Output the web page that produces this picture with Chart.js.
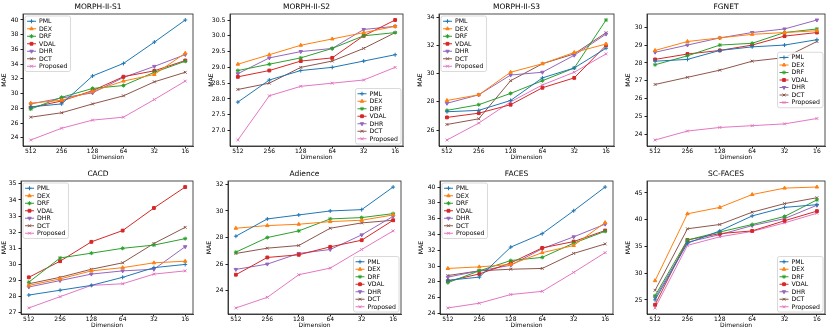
<!DOCTYPE html>
<html>
<head>
<meta charset="utf-8">
<script src="https://cdn.jsdelivr.net/npm/chart.js@4.4.0/dist/chart.umd.min.js"></script>
<style>
  body { margin: 0; background: #fff; width: 830px; height: 332px; position: relative; overflow: hidden; }
  .cell { position: absolute; }
</style>
</head>
<body>
<script>
const dims = ['512', '256', '128', '64', '32', '16'];
const methods = ['PML', 'DEX', 'DRF', 'VDAL', 'DHR', 'DCT', 'Proposed'];

// rows follow the order of methods
const morphS1 = [
  [28.2, 28.6, 32.4, 34.1, 37.0, 40.0],
  [28.7, 29.1, 30.3, 31.7, 32.6, 35.5],
  [27.9, 29.5, 30.7, 31.1, 32.9, 34.4],
  [28.1, 29.0, 30.4, 32.3, 33.1, 34.5],
  [28.6, 29.4, 30.1, 32.2, 33.7, 35.3],
  [26.8, 27.4, 28.6, 29.7, 31.6, 32.9],
  [23.7, 25.3, 26.4, 26.8, 29.2, 31.7]
];
const morphS2 = [
  [27.9, 28.6, 28.9, 29.0, 29.2, 29.4],
  [29.1, 29.4, 29.7, 29.9, 30.1, 30.3],
  [28.9, 29.1, 29.3, 29.6, 30.0, 30.1],
  [28.7, 28.9, 29.2, 29.3, 30.0, 30.5],
  [28.8, 29.3, 29.5, 29.6, 30.2, 30.3],
  [28.3, 28.5, 29.0, 29.2, 29.6, 30.1],
  [26.7, 28.1, 28.4, 28.5, 28.6, 29.0]
];
const morphS3 = [
  [27.3, 27.4, 28.1, 29.7, 30.4, 31.8],
  [28.1, 28.5, 30.1, 30.7, 31.5, 32.1],
  [27.4, 27.8, 28.6, 29.5, 30.4, 33.8],
  [26.9, 27.2, 27.8, 29.0, 29.7, 32.0],
  [27.9, 28.5, 29.9, 30.1, 31.3, 32.8],
  [26.4, 26.8, 29.5, 30.7, 31.4, 32.9],
  [25.3, 26.5, 28.0, 29.2, 30.1, 31.4]
];
const fgnet = [
  [28.1, 28.2, 28.7, 28.9, 29.0, 29.3],
  [28.7, 29.2, 29.4, 29.6, 29.7, 29.8],
  [27.9, 28.4, 29.0, 29.1, 29.7, 29.9],
  [28.2, 28.5, 28.7, 29.0, 29.5, 29.7],
  [28.6, 29.0, 29.4, 29.7, 29.9, 30.4],
  [26.8, 27.2, 27.6, 28.1, 28.3, 29.2],
  [23.7, 24.2, 24.4, 24.5, 24.6, 24.9]
];
const cacd = [
  [28.1, 28.4, 28.7, 29.2, 29.8, 30.0],
  [28.7, 29.1, 29.6, 29.8, 30.1, 30.2],
  [28.9, 30.4, 30.7, 31.0, 31.2, 31.6],
  [29.2, 30.2, 31.4, 32.1, 33.5, 34.8],
  [28.6, 29.0, 29.4, 29.6, 29.7, 31.1],
  [28.8, 29.2, 29.7, 30.1, 31.3, 32.3],
  [27.3, 28.0, 28.7, 28.8, 29.4, 29.6]
];
const adience = [
  [28.1, 29.4, 29.7, 30.0, 30.1, 31.8],
  [28.7, 28.9, 29.0, 29.2, 29.3, 29.7],
  [26.9, 28.0, 28.5, 29.4, 29.5, 29.8],
  [25.2, 26.5, 26.7, 27.3, 27.8, 29.3],
  [25.6, 26.0, 26.8, 27.1, 28.2, 29.6],
  [26.8, 27.2, 27.4, 28.7, 29.1, 29.3],
  [22.7, 23.5, 25.2, 25.7, 27.1, 28.5]
];
const faces = [
  [28.2, 28.6, 32.4, 34.1, 37.0, 40.0],
  [29.7, 29.9, 30.2, 31.7, 32.6, 35.5],
  [27.9, 29.4, 30.7, 31.1, 32.9, 34.4],
  [28.1, 29.0, 30.4, 32.3, 33.1, 34.5],
  [28.6, 29.4, 30.1, 32.2, 33.7, 35.3],
  [28.8, 29.4, 29.6, 29.7, 31.6, 32.8],
  [24.7, 25.3, 26.4, 26.8, 29.2, 31.7]
];
const scFaces = [
  [25.0, 35.6, 37.9, 40.7, 42.3, 42.8],
  [28.6, 41.1, 42.3, 44.7, 45.9, 46.1],
  [25.8, 36.2, 37.7, 39.1, 40.6, 43.7],
  [24.1, 36.2, 37.4, 37.9, 39.8, 41.6],
  [25.4, 35.8, 37.2, 38.9, 40.2, 42.7],
  [26.8, 38.3, 39.1, 41.4, 43.0, 44.1],
  [23.5, 35.2, 36.8, 37.8, 39.4, 41.2]
];

const colors = ['#1f77b4', '#ff7f0e', '#2ca02c', '#d62728', '#9467bd', '#8c564b', '#e377c2'];
const markers = [
  { style: 'cross', rot: 0 },
  { style: 'triangle', rot: 0 },
  { style: 'star', rot: 0 },
  { style: 'rect', rot: 0 },
  { style: 'triangle', rot: 180 },
  { style: 'cross', rot: 45 },
  { style: 'crossRot', rot: 0 }
];

const FONT = '"DejaVu Sans", sans-serif';

// panel placement: canvas box, y-axis width, title height, x-axis height
const panels = [
  { title: 'MORPH-II-S1', values: morphS1, step: 2, dec: 0, legend: 'ul', left: 0, top: 0, width: 198, yw: 23, th: 14, xh: 20 },
  { title: 'MORPH-II-S2', values: morphS2, step: 0.5, dec: 1, legend: 'lr', left: 207, top: 0, width: 201, yw: 23, th: 14, xh: 20 },
  { title: 'MORPH-II-S3', values: morphS3, step: 2, dec: 0, legend: 'ul', left: 416, top: 0, width: 203, yw: 23, th: 14, xh: 20 },
  { title: 'FGNET', values: fgnet, step: 1, dec: 0, legend: 'cr', left: 624, top: 0, width: 206, yw: 23, th: 14, xh: 20 },
  { title: 'CACD', values: cacd, step: 1, dec: 0, legend: 'ul', left: 0, top: 166, width: 198, yw: 21, th: 15, xh: 18 },
  { title: 'Adience', values: adience, step: 2, dec: 0, legend: 'lr', left: 205, top: 166, width: 201, yw: 23, th: 15, xh: 18 },
  { title: 'FACES', values: faces, step: 2, dec: 0, legend: 'ul', left: 417, top: 166, width: 201, yw: 23, th: 15, xh: 18 },
  { title: 'SC-FACES', values: scFaces, step: 5, dec: 0, legend: 'lr', left: 624, top: 166, width: 206, yw: 23, th: 15, xh: 18 }
];

// box around the plot area (matplotlib spines)
const frame = {
  id: 'frame',
  afterDatasetsDraw(chart) {
    const { ctx, chartArea: a } = chart;
    ctx.save();
    ctx.strokeStyle = '#222';
    ctx.lineWidth = 0.8;
    ctx.strokeRect(a.left, a.top, a.right - a.left, a.bottom - a.top);
    ctx.restore();
  }
};

// matplotlib-like legend drawn inside the axes
const boxLegend = {
  id: 'boxLegend',
  afterDraw(chart, args, opts) {
    const { ctx, chartArea: a } = chart;
    const ds = chart.data.datasets;
    ctx.save();
    ctx.font = '6.2px ' + FONT;
    const tw = Math.max(...ds.map(d => ctx.measureText(d.label).width));
    const rowH = 7.5;
    const w = 2 + 9 + 3 + tw + 3;
    const h = ds.length * rowH + 3;
    let x, y;
    if (opts.loc === 'ul') { x = a.left + 2; y = a.top + 2; }
    else if (opts.loc === 'lr') { x = a.right - 2 - w; y = a.bottom - 2 - h; }
    else { x = a.right - 2 - w; y = (a.top + a.bottom) / 2 - h / 2; }
    ctx.fillStyle = 'rgba(255,255,255,0.8)';
    ctx.strokeStyle = '#d0d0d0';
    ctx.lineWidth = 0.8;
    ctx.beginPath();
    if (ctx.roundRect) ctx.roundRect(x, y, w, h, 2); else ctx.rect(x, y, w, h);
    ctx.fill();
    ctx.stroke();
    ds.forEach((d, i) => {
      const cy = y + 1.5 + rowH * (i + 0.5);
      ctx.strokeStyle = d.borderColor;
      ctx.lineWidth = 1;
      ctx.beginPath();
      ctx.moveTo(x + 2, cy);
      ctx.lineTo(x + 11, cy);
      ctx.stroke();
      ctx.fillStyle = d.borderColor;
      Chart.helpers.drawPoint(ctx, { pointStyle: d.pointStyle, radius: 2, rotation: d.pointRotation, borderWidth: 1 }, x + 6.5, cy);
      ctx.fillStyle = '#000';
      ctx.textBaseline = 'middle';
      ctx.textAlign = 'left';
      ctx.fillText(d.label, x + 14, cy + 0.3);
    });
    ctx.restore();
  }
};

panels.forEach(p => {
  const div = document.createElement('div');
  div.className = 'cell';
  div.style.left = p.left + 'px';
  div.style.top = p.top + 'px';
  div.style.width = p.width + 'px';
  div.style.height = '166px';
  const cv = document.createElement('canvas');
  div.appendChild(cv);
  document.body.appendChild(div);

  const all = p.values.flat();
  const lo = Math.min(...all), hi = Math.max(...all);
  const m = (hi - lo) * 0.05;

  new Chart(cv, {
    type: 'line',
    data: {
      datasets: methods.map((name, k) => ({
        label: name,
        data: p.values[k].map((v, i) => ({ x: i, y: v })),
        borderColor: colors[k],
        backgroundColor: colors[k],
        borderWidth: 1,
        pointStyle: markers[k].style,
        pointRotation: markers[k].rot,
        pointRadius: 2,
        pointBorderWidth: 1,
        tension: 0,
        fill: false
      }))
    },
    options: {
      responsive: true,
      maintainAspectRatio: false,
      animation: false,
      devicePixelRatio: 1,
      layout: { padding: { left: 0, right: 2, top: 0, bottom: 0 } },
      plugins: {
        legend: { display: false },
        tooltip: { enabled: false },
        title: {
          display: true,
          text: p.title,
          color: '#000',
          font: { family: FONT, size: 7.5, weight: 'normal', lineHeight: 1.2 },
          padding: p.th === 14 ? { top: 2.5, bottom: 2.5 } : { top: 3.5, bottom: 2.5 }
        },
        boxLegend: { loc: p.legend }
      },
      scales: {
        x: {
          type: 'linear',
          min: -0.25,
          max: 5.25,
          afterBuildTicks: s => { s.ticks = dims.map((d, i) => ({ value: i })); },
          afterFit: s => { s.height = p.xh; },
          ticks: {
            callback: v => dims[v],
            color: '#000',
            font: { family: FONT, size: 6, lineHeight: 1 },
            padding: 0,
            maxRotation: 0,
            autoSkip: false
          },
          grid: { display: true, drawOnChartArea: false, drawTicks: true, tickLength: 2.5, color: '#222' },
          border: { display: true, color: '#222', width: 0.8 },
          title: {
            display: true,
            text: 'Dimension',
            color: '#000',
            font: { family: FONT, size: 6, lineHeight: 1.2 },
            padding: { top: 0, bottom: p.xh === 20 ? 4.5 : 2.5 }
          }
        },
        y: {
          type: 'linear',
          min: lo - m,
          max: hi + m,
          afterBuildTicks: s => {
            const t = [];
            for (let v = Math.ceil(s.min / p.step - 1e-9) * p.step; v <= s.max + 1e-9; v += p.step) {
              t.push({ value: Math.round(v * 100) / 100 });
            }
            s.ticks = t;
          },
          afterFit: s => { s.width = p.yw; },
          ticks: {
            callback: v => p.dec ? v.toFixed(p.dec) : String(v),
            color: '#000',
            font: { family: FONT, size: 6.2 },
            padding: 2
          },
          grid: { display: true, drawOnChartArea: false, drawTicks: true, tickLength: 2.5, color: '#222' },
          border: { display: true, color: '#222', width: 0.8 },
          title: {
            display: true,
            text: 'MAE',
            color: '#000',
            font: { family: FONT, size: 6.2, lineHeight: 1.2 },
            padding: { top: 1, bottom: 0 }
          }
        }
      }
    },
    plugins: [frame, boxLegend]
  });
});
</script>
</body>
</html>
